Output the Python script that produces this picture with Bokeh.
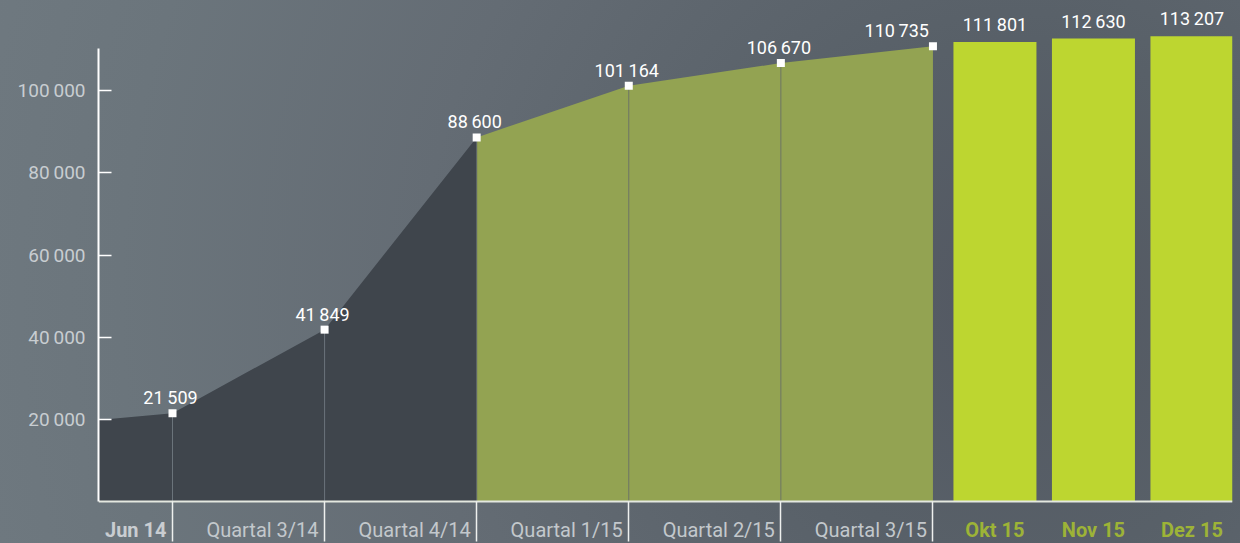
import numpy as np
from bokeh.plotting import figure
from bokeh.models import Range1d, FixedTicker, ColumnDataSource, LabelSet
from bokeh.core.properties import value
from bokeh.embed import file_html
from bokeh.resources import INLINE

# ---------------- data ----------------
quarter_labels = ["Jun 14", "Quartal 3/14", "Quartal 4/14",
                  "Quartal 1/15", "Quartal 2/15", "Quartal 3/15"]
quarter_values = [21509, 41849, 88600, 101164, 106670, 110735]
edge_value = 19900          # value where the area meets the left axis
month_labels = ["Okt 15", "Nov 15", "Dez 15"]
month_values = [111801, 112630, 113207]
y_ticks = [20000, 40000, 60000, 80000, 100000]
n_dark = 3                  # quarters of 2014 (dark area)

# ---------------- layout constants ----------------
W, H = 1240, 543
LEFT, RIGHT = 98, 8
ZERO_PX = 501.25            # pixel row of the value 0
STEP = 152.09               # px per quarter
X_START = -74 / STEP
X_END = X_START + (W - LEFT - RIGHT) / STEP
PX_PER_VAL = 4.1125 / 1000
Y_START = -(H - ZERO_PX) / PX_PER_VAL
Y_END = ZERO_PX / PX_PER_VAL
Y_AXIS_TOP = (ZERO_PX - 48) / PX_PER_VAL
BAR_FIRST = 62 / STEP
BAR_PITCH = 98.5 / STEP
BAR_W = 83 / STEP

FONT = "Roboto"

def fmt(v):
    return f"{v:,}".replace(",", "\u2009")

qx = list(range(len(quarter_values)))
bar_x = [len(quarter_values) - 1 + BAR_FIRST + BAR_PITCH * i for i in range(len(month_values))]

p = figure(width=W, height=H,
           x_range=Range1d(X_START, X_END), y_range=Range1d(Y_START, Y_END),
           output_backend="svg", toolbar_location=None,
           min_border_left=LEFT, min_border_right=RIGHT, min_border_top=0, min_border_bottom=0)
p.background_fill_color = None
p.border_fill_color = None
p.outline_line_color = None
p.grid.visible = False
p.styles = {"background": "radial-gradient(circle at 1020px 300px, #535862 0px, #586068 260px, #646c74 600px, #6b757c 900px, #717b82 1200px)"}

# areas
p.varea(x=[X_START] + qx[:n_dark], y1=0, y2=[edge_value] + quarter_values[:n_dark],
        fill_color="#3f454c")
p.varea(x=qx[n_dark - 1:], y1=0, y2=quarter_values[n_dark - 1:], fill_color="#93a352")

# vertical lines inside the areas
seg_colors = ["#6b747b"] * (n_dark - 1) + ["#5f666c"] + ["#6d7565"] * (len(qx) - n_dark - 1)
p.segment(x0=qx[:-1], y0=0, x1=qx[:-1], y1=quarter_values[:-1],
          line_color=seg_colors, line_width=1)

# bars
p.vbar(x=bar_x, width=BAR_W, top=month_values, bottom=0,
       fill_color="#bdd630", line_color=None)

# markers
p.scatter(x=qx, y=quarter_values, marker="square", size=8,
          fill_color="white", line_color=None)

# value labels for quarters
qsrc = ColumnDataSource(dict(
    x=qx, y=quarter_values, text=[fmt(v) for v in quarter_values],
    align=["center"] * (len(qx) - 1) + ["right"],
    xoff=[-2] * (len(qx) - 1) + [-4]))
p.add_layout(LabelSet(x="x", y="y", text="text", source=qsrc,
                      text_align="align", x_offset="xoff", y_offset=9,
                      text_baseline="alphabetic", text_color="white",
                      text_font=value(FONT), text_font_size="18px"))

# value labels for bars
bsrc = ColumnDataSource(dict(x=bar_x, y=month_values, text=[fmt(v) for v in month_values]))
p.add_layout(LabelSet(x="x", y="y", text="text", source=bsrc,
                      text_align="center", y_offset=11,
                      text_baseline="alphabetic", text_color="white",
                      text_font=value(FONT), text_font_size="18px"))

# category labels under the axis
xl = ColumnDataSource(dict(
    x=qx + bar_x,
    y=[0] * (len(qx) + len(bar_x)),
    text=quarter_labels + month_labels,
    color=["#c9cdd1"] + ["#c3c8cc"] * (len(qx) - 1) + ["#9db337"] * len(bar_x),
    style=["bold"] + ["normal"] * (len(qx) - 1) + ["bold"] * len(bar_x),
    align=["right"] * len(qx) + ["center"] * len(bar_x),
    xoff=[-6] * len(qx) + [0] * len(bar_x)))
p.add_layout(LabelSet(x="x", y="y", text="text", source=xl,
                      text_align="align", x_offset="xoff", y_offset=-35,
                      text_baseline="alphabetic", text_color="color",
                      text_font_style="style",
                      text_font=value(FONT), text_font_size="20px"))

# y axis
ya = p.yaxis[0]
ya.ticker = FixedTicker(ticks=y_ticks, minor_ticks=[])
ya.major_label_overrides = {t: fmt(t) for t in y_ticks}
ya.bounds = (0, Y_AXIS_TOP)
ya.axis_line_color = "white"
ya.axis_line_width = 2
ya.major_tick_in = 13
ya.major_tick_out = 0
ya.major_tick_line_color = "white"
ya.major_tick_line_width = 1.5
ya.minor_tick_line_color = None
ya.major_label_standoff = 13
ya.major_label_text_color = "#c8cdd1"
ya.major_label_text_font = FONT
ya.major_label_text_font_size = "19px"

# x axis: drawn at value 0, line and separators
xa = p.xaxis[0]
xa.fixed_location = 0
xa.ticker = FixedTicker(ticks=[], minor_ticks=qx)
xa.axis_line_color = "#e4e8e0"
xa.axis_line_width = 2
xa.major_tick_line_color = None
xa.minor_tick_in = 0
xa.minor_tick_out = 40
xa.minor_tick_line_color = "#eef0ee"
xa.minor_tick_line_width = 1.5
xa.major_label_text_font_size = "0px"
xa.major_label_standoff = 0

open("out.html", "w").write(file_html(p, INLINE))
